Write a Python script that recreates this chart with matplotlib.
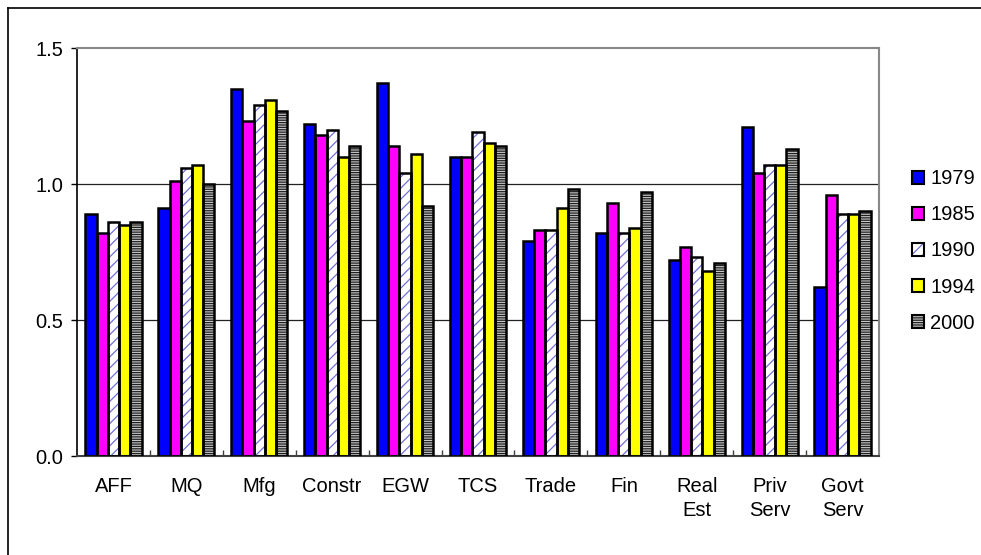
import numpy as np
import matplotlib
matplotlib.use('Agg')
import matplotlib.pyplot as plt
from matplotlib.patches import Patch
from matplotlib.lines import Line2D
from matplotlib.legend_handler import HandlerTuple

plt.rcParams['font.family'] = ['Liberation Sans', 'DejaVu Sans']
plt.rcParams['hatch.linewidth'] = 0.9

# datos
sectors = ['AFF', 'MQ', 'Mfg', 'Constr', 'EGW', 'TCS', 'Trade', 'Fin',
           'Real\nEst', 'Priv\nServ', 'Govt\nServ']
years = ['1979', '1985', '1990', '1994', '2000']

v1979 = [0.89, 0.91, 1.35, 1.22, 1.37, 1.10, 0.79, 0.82, 0.72, 1.21, 0.62]
v1985 = [0.82, 1.01, 1.23, 1.18, 1.14, 1.10, 0.83, 0.93, 0.77, 1.04, 0.96]
v1990 = [0.86, 1.06, 1.29, 1.20, 1.04, 1.19, 0.83, 0.82, 0.73, 1.07, 0.89]
v1994 = [0.85, 1.07, 1.31, 1.10, 1.11, 1.15, 0.91, 0.84, 0.68, 1.07, 0.89]
v2000 = [0.86, 1.00, 1.27, 1.14, 0.92, 1.14, 0.98, 0.97, 0.71, 1.13, 0.90]
series = [v1979, v1985, v1990, v1994, v2000]

# estilo de cada serie: (relleno, color de trama, trama)
styles = [('#0000ff', None, None),
          ('#ff00ff', None, None),
          ('#ffffff', '#7070d8', '///'),
          ('#ffff00', None, None),
          ('#c8c8c8', '#202020', '-------')]

W, H = 981, 555
fig = plt.figure(figsize=(W / 100, H / 100), dpi=100)
ax = fig.add_axes([77 / W, 1 - 456 / H, (879 - 77) / W, (456 - 48) / H])

x = np.arange(len(sectors))
bw = 0.154
handles = []
for i, (vals, st) in enumerate(zip(series, styles)):
    face, hcol, hatch = st
    pos = x + (i - 2) * bw
    if hatch:
        ax.bar(pos, vals, bw, color=face, edgecolor=hcol, hatch=hatch,
               linewidth=0, zorder=2)
    else:
        ax.bar(pos, vals, bw, color=face, linewidth=0, zorder=2)
    ax.bar(pos, vals, bw, fill=False, edgecolor='black', linewidth=1.8, zorder=3)
    p1 = Patch(facecolor=face, edgecolor=hcol if hatch else face,
               hatch=hatch, linewidth=0)
    p2 = Patch(fill=False, edgecolor='black', linewidth=1.5)
    handles.append((p1, p2))

ax.set_xlim(-0.5, len(sectors) - 0.5)
ax.set_ylim(0, 1.5)
ax.set_yticks([0, 0.5, 1.0, 1.5])
ax.set_yticklabels(['0.0', '0.5', '1.0', '1.5'])
ax.set_xticks(x)
ax.set_xticklabels(sectors, linespacing=1.35)
ax.set_xticks(np.arange(0.5, len(sectors) - 1, 1.0), minor=True)
ax.tick_params(axis='x', which='major', length=0, pad=15, labelsize=14.5)
ax.tick_params(axis='x', which='minor', direction='in', length=4, width=1,
               color='#404040')
ax.tick_params(axis='y', length=4, width=1, pad=6, labelsize=14.5)

for yv in [0.5, 1.0]:
    ax.axhline(yv, color='#222222', linewidth=0.9, zorder=1)

ax.spines['left'].set_color('black')
ax.spines['bottom'].set_color('#404040')
ax.spines['left'].set_linewidth(1.2)
ax.spines['bottom'].set_linewidth(1.5)
ax.spines['top'].set_color('#888888')
ax.spines['right'].set_color('#888888')
ax.spines['top'].set_linewidth(1.5)
ax.spines['right'].set_linewidth(1.5)

fig.legend(handles, years, loc='center left',
           bbox_to_anchor=(894 / W, 1 - 251 / H), frameon=False,
           fontsize=14.5, handlelength=0.6, handleheight=0.6,
           handletextpad=0.3, labelspacing=0.85,
           handler_map={tuple: HandlerTuple(ndivide=1, pad=0)})

# borde exterior (solo arriba e izquierda visibles)
fig.add_artist(Line2D([8 / W, 1], [1 - 7.5 / H, 1 - 7.5 / H],
                      transform=fig.transFigure, color='black', linewidth=1.2))
fig.add_artist(Line2D([8 / W, 8 / W], [0, 1 - 7.5 / H],
                      transform=fig.transFigure, color='black', linewidth=1.2))

fig.savefig('out.png', dpi=100)
